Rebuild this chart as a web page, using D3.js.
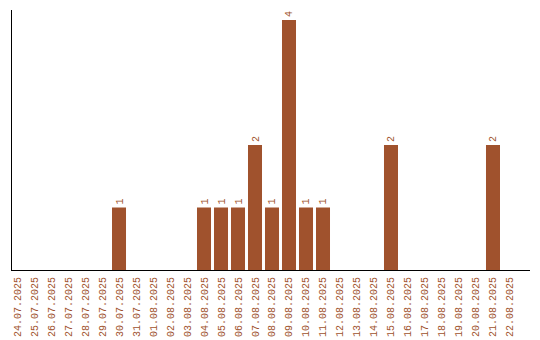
<!DOCTYPE html>
<html>
<head>
<meta charset="utf-8">
<script src="https://cdn.jsdelivr.net/npm/d3@7"></script>
<style>
  body { margin: 0; background: #fff; }
  svg text { font-family: "Liberation Mono", monospace; font-size: 10px; fill: #a0522d; }
</style>
</head>
<body>
<svg></svg>
<script>
const dates = ["24.07.2025", "25.07.2025", "26.07.2025", "27.07.2025", "28.07.2025", "29.07.2025",
    "30.07.2025", "31.07.2025", "01.08.2025", "02.08.2025", "03.08.2025", "04.08.2025",
    "05.08.2025", "06.08.2025", "07.08.2025", "08.08.2025", "09.08.2025", "10.08.2025",
    "11.08.2025", "12.08.2025", "13.08.2025", "14.08.2025", "15.08.2025", "16.08.2025",
    "17.08.2025", "18.08.2025", "19.08.2025", "20.08.2025", "21.08.2025", "22.08.2025"];
const counts = [0, 0, 0, 0, 0, 0, 1, 0, 0, 0, 0, 1, 1, 1, 2, 1, 4, 1, 1, 0, 0, 0, 2, 0, 0, 0, 0, 0, 2, 0];

const width = 540;
const height = 340;
const axisLeftX = 11;
const axisRightX = 530;
const plotTop = 10;
const baseline = 270;
const barColor = "#a0522d";

const data = dates.map((d, i) => ({ date: d, value: counts[i] }));

const svg = d3.select("svg")
    .attr("width", width)
    .attr("height", height);

const x = d3.scaleBand()
    .domain(dates)
    .range([10, 517])
    .paddingInner(0.176)
    .paddingOuter(0);

const y = d3.scaleLinear()
    .domain([0, d3.max(counts) * 1.04])
    .range([baseline, plotTop]);

// bars
svg.append("g")
    .selectAll("rect")
    .data(data.filter(d => d.value > 0))
    .enter().append("rect")
    .attr("x", d => x(d.date))
    .attr("y", d => y(d.value))
    .attr("width", x.bandwidth())
    .attr("height", d => baseline - y(d.value))
    .attr("fill", barColor);

// value labels
svg.append("g")
    .selectAll("text")
    .data(data.filter(d => d.value > 0))
    .enter().append("text")
    .attr("transform", d => `translate(${x(d.date) + x.bandwidth() / 2},${y(d.value) - 3}) rotate(-90)`)
    .attr("dy", "0.35em")
    .text(d => d.value);

// x axis
const xAxis = svg.append("g")
    .attr("transform", `translate(0,${baseline})`)
    .call(d3.axisBottom(x).tickSize(0).tickSizeOuter(0));

xAxis.select(".domain").remove();
xAxis.append("line")
    .attr("x1", axisLeftX)
    .attr("x2", axisRightX)
    .attr("y1", 0.5)
    .attr("y2", 0.5)
    .attr("stroke", "#000");

xAxis.selectAll(".tick text")
    .attr("transform", "rotate(-90)")
    .attr("x", -7)
    .attr("y", 0)
    .attr("dy", "0.35em")
    .attr("text-anchor", "end")
    .attr("fill", barColor)
    .style("font-size", "10px")
    .style("font-family", "Liberation Mono, monospace");

// y axis
svg.append("line")
    .attr("x1", axisLeftX + 0.5)
    .attr("x2", axisLeftX + 0.5)
    .attr("y1", plotTop)
    .attr("y2", baseline + 1)
    .attr("stroke", "#000");
</script>
</body>
</html>
